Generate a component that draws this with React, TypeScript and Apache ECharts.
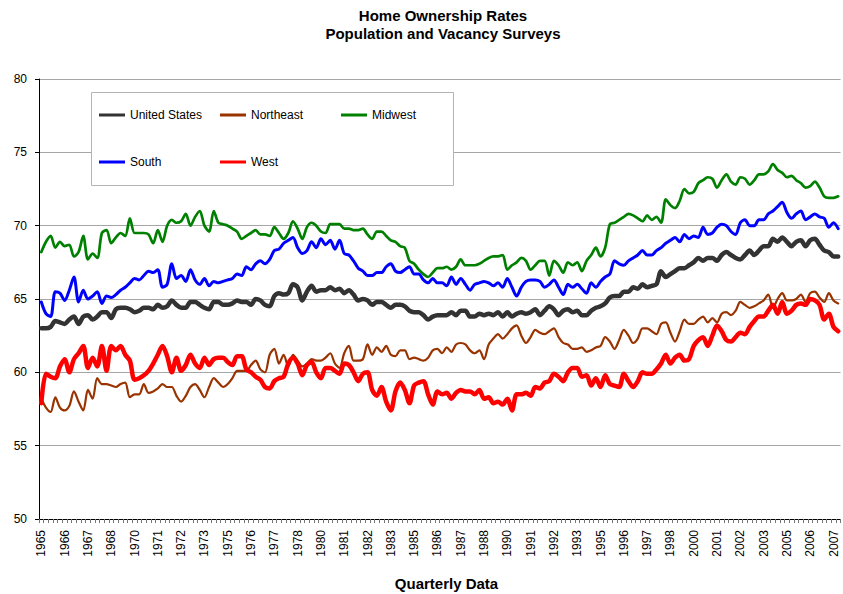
import React, { useEffect, useRef } from "react";
import * as echarts from "echarts";

const FONT = '"Liberation Sans", Arial, Helvetica, sans-serif';

const years = [
  1965, 1966, 1967, 1968, 1969, 1970, 1971, 1972, 1973, 1974, 1975, 1976, 1977, 1978, 1979,
  1980, 1981, 1982, 1983, 1984, 1985, 1986, 1987, 1988, 1989, 1990, 1991, 1992, 1993, 1994,
  1995, 1996, 1997, 1998, 1999, 2000, 2001, 2002, 2003, 2004, 2005, 2006, 2007,
];
// quarterly categories, labelled with their year
const categories = years.flatMap((y) => [String(y), String(y), String(y), String(y)]);

const seriesNames = ["United States", "Northeast", "Midwest", "South", "West"];

const unitedStates = [
  63.0, 63.0, 63.1, 63.5, 63.4, 63.3, 63.6, 63.8, 63.3, 63.8, 63.9, 63.6, 63.8, 64.1, 64.1, 63.7, 64.3, 64.4, 64.4, 64.3, 64.1, 64.2, 64.4, 64.4, 64.3, 64.6, 64.4, 64.5, 64.9,
  64.6, 64.4, 64.4, 64.8, 64.8, 64.6, 64.4, 64.3, 64.8, 64.8, 64.6, 64.6, 64.7, 64.9, 64.8, 64.8, 64.6, 65.0, 64.9, 64.6, 64.5, 65.2, 65.4, 65.3, 65.4, 66.0, 65.8, 64.9, 65.5,
  65.9, 65.5, 65.6, 65.6, 65.8, 65.6, 65.7, 65.4, 65.6, 65.3, 64.9, 65.0, 64.9, 64.6, 64.8, 64.8, 64.6, 64.4, 64.6, 64.6, 64.5, 64.2, 64.1, 64.1, 63.9, 63.6, 63.8, 63.9,
  63.9, 63.9, 64.1, 63.9, 64.2, 64.2, 63.8, 63.8, 64.0, 63.9, 64.0, 63.9, 64.1, 63.8, 64.1, 63.8, 64.0, 64.1, 64.0, 64.1, 64.3, 63.9, 64.2, 64.5, 64.3, 63.9, 64.2, 64.3, 64.1,
  64.2, 63.9, 63.9, 64.2, 64.4, 64.5, 64.7, 65.1, 65.2, 65.2, 65.5, 65.5, 65.8, 65.7, 66.0, 65.8, 65.9, 66.0, 66.9, 66.5, 66.7, 66.9, 67.1, 67.1, 67.3, 67.5, 67.8, 67.6, 67.8,
  67.8, 67.6, 68.0, 68.2, 68.0, 67.8, 67.7, 68.0, 68.3, 68.0, 68.3, 68.6, 68.6, 69.1, 68.9, 69.2, 68.9, 68.6, 68.9, 69.0, 68.6, 69.0, 69.1, 68.7, 68.3, 68.2, 67.9, 67.9,
];

const northeast = [
  58.2, 57.6, 57.3, 58.3, 57.6, 57.4, 57.7, 58.7, 58.0, 57.4, 58.8, 58.2, 59.6, 59.2, 59.2, 59.1, 59.0, 59.2, 59.3, 58.3, 58.5, 58.5, 59.2, 58.6, 58.7, 58.9, 59.2, 59.0, 59.0,
  58.4, 58.0, 58.4, 59.0, 59.2, 58.8, 58.3, 59.0, 59.6, 59.3, 59.0, 59.2, 59.6, 60.1, 60.1, 60.1, 60.5, 60.8, 60.2, 60.0, 61.2, 61.6, 60.6, 61.2, 60.4, 61.2, 60.8, 60.4, 60.6,
  60.9, 60.8, 60.8, 61.0, 61.3, 60.6, 60.3, 61.3, 61.8, 60.8, 60.8, 60.9, 61.9, 61.2, 61.7, 61.4, 61.8, 61.2, 61.1, 61.5, 61.5, 60.9, 61.0, 60.9, 60.8, 61.0, 61.5, 61.6,
  61.3, 61.7, 61.4, 61.9, 62.0, 61.9, 61.5, 61.3, 61.5, 60.9, 61.9, 62.3, 62.6, 62.3, 62.6, 63.0, 63.2, 62.5, 62.0, 62.4, 62.9, 62.7, 62.6, 62.8, 63.0, 62.4, 62.0, 61.9, 61.6,
  61.6, 61.7, 61.4, 61.5, 61.7, 61.8, 62.4, 62.1, 61.6, 62.2, 62.9, 62.5, 62.0, 62.3, 63.0, 63.0, 62.8, 62.6, 63.3, 63.4, 62.7, 62.1, 62.8, 63.6, 63.3, 63.3, 63.6, 63.8, 63.4,
  63.7, 63.4, 64.0, 64.1, 63.9, 64.2, 64.8, 64.6, 64.4, 64.5, 64.7, 64.9, 65.3, 64.4, 65.0, 65.4, 64.9, 64.9, 65.0, 65.3, 64.8, 65.4, 65.5, 65.1, 64.8, 65.4, 64.9, 64.7,
];

const midwest = [
  68.2, 68.9, 69.3, 68.5, 68.9, 68.6, 68.7, 67.9, 68.2, 69.3, 67.7, 68.1, 67.8, 69.5, 69.7, 68.8, 69.2, 69.5, 69.3, 70.5, 69.5, 69.5, 69.5, 69.4, 68.8, 69.7, 68.9, 70.0, 70.4,
  70.2, 70.3, 70.8, 70.0, 70.6, 71.0, 70.0, 69.6, 71.0, 70.2, 70.1, 70.0, 69.8, 69.6, 69.1, 69.3, 69.5, 69.7, 69.4, 69.4, 69.3, 69.9, 69.5, 69.1, 69.5, 70.3, 69.8, 69.1, 69.9,
  70.2, 70.0, 69.6, 69.5, 70.1, 70.1, 70.1, 69.8, 69.8, 69.7, 69.7, 69.8, 69.4, 69.1, 69.6, 69.6, 69.3, 69.0, 68.9, 68.6, 68.5, 67.6, 67.4, 67.0, 66.7, 66.5, 66.8, 67.1,
  67.1, 67.2, 67.0, 67.2, 67.7, 67.3, 67.3, 67.3, 67.4, 67.6, 67.8, 67.9, 67.9, 68.0, 67.0, 67.3, 67.5, 67.8, 67.6, 67.0, 67.3, 67.6, 67.6, 66.6, 67.6, 67.3, 66.8, 67.5, 67.3,
  67.5, 66.9, 67.6, 68.0, 68.5, 67.9, 68.5, 70.1, 70.2, 70.4, 70.6, 70.8, 70.7, 70.5, 70.3, 70.7, 70.4, 70.6, 70.2, 71.8, 71.4, 71.2, 71.7, 72.5, 72.2, 72.3, 72.9, 73.1, 73.3,
  73.2, 72.6, 73.1, 73.5, 73.0, 72.8, 73.3, 73.2, 72.8, 73.1, 73.5, 73.5, 73.7, 74.2, 73.8, 73.6, 73.3, 73.4, 73.1, 72.9, 72.6, 72.7, 73.0, 72.6, 72.0, 71.9, 71.9, 72.0,
];

const south = [
  64.8, 64.0, 63.8, 65.5, 65.4, 64.9, 65.6, 66.5, 64.8, 65.6, 65.0, 65.2, 65.5, 64.7, 65.2, 65.1, 65.3, 65.6, 65.8, 66.1, 66.4, 66.3, 66.6, 66.9, 66.8, 67.0, 65.8, 66.0, 67.4,
  66.4, 66.6, 66.2, 67.0, 66.3, 66.0, 66.4, 65.9, 66.2, 66.1, 66.2, 66.3, 66.4, 66.7, 66.6, 67.2, 67.0, 67.4, 67.6, 67.4, 67.7, 68.3, 68.4, 68.8, 69.0, 69.2, 68.5, 68.1, 68.3,
  68.9, 68.5, 69.1, 68.7, 69.0, 68.4, 69.0, 68.1, 68.0, 67.6, 67.1, 66.9, 66.6, 66.6, 66.8, 66.8, 67.2, 67.4, 66.9, 66.8, 67.0, 67.2, 66.7, 66.7, 66.3, 66.1, 66.4, 66.1,
  66.1, 65.9, 66.5, 66.0, 66.4, 66.0, 65.6, 66.0, 66.1, 66.2, 66.1, 65.9, 66.1, 65.8, 66.4, 65.8, 65.2, 65.8, 66.2, 66.3, 66.3, 66.2, 65.8, 66.0, 66.3, 65.8, 65.3, 66.0, 65.8,
  66.0, 65.7, 65.4, 66.1, 65.8, 66.2, 66.5, 66.7, 67.6, 67.4, 67.3, 67.6, 67.8, 68.0, 68.3, 68.0, 68.0, 68.3, 68.5, 68.8, 69.0, 69.2, 68.9, 69.4, 69.1, 69.3, 69.2, 69.9, 69.4,
  69.5, 69.9, 70.1, 70.0, 69.6, 69.4, 70.2, 70.4, 70.0, 70.0, 70.4, 70.4, 70.8, 71.0, 71.3, 71.6, 70.9, 70.5, 70.8, 71.0, 70.4, 70.6, 70.8, 70.6, 70.5, 69.9, 70.2, 69.8,
];

const west = [
  57.9, 59.9, 59.7, 59.6, 60.4, 60.9, 60.0, 60.9, 61.3, 61.8, 60.3, 61.0, 60.4, 61.8, 60.1, 61.8, 61.5, 61.8, 61.2, 60.8, 59.5, 59.6, 59.8, 60.1, 60.6, 61.2, 61.8, 61.1, 60.0,
  61.0, 60.1, 60.5, 61.2, 60.6, 60.3, 61.0, 60.5, 60.9, 61.0, 61.0, 60.7, 60.5, 61.1, 61.1, 60.2, 60.0, 59.7, 59.5, 59.0, 58.9, 59.4, 59.6, 59.7, 60.6, 61.0, 60.6, 59.8, 60.5,
  60.7, 60.0, 59.6, 60.3, 60.3, 60.1, 59.9, 60.6, 60.5, 60.0, 59.4, 59.9, 60.0, 58.8, 58.4, 59.0, 58.0, 57.4, 58.7, 59.3, 58.8, 57.9, 59.1, 59.3, 59.4, 58.5, 57.8, 58.7,
  58.5, 58.6, 58.2, 58.6, 58.8, 58.7, 58.7, 58.5, 58.8, 58.2, 58.3, 57.9, 58.0, 57.8, 58.2, 57.4, 58.5, 58.5, 58.6, 58.4, 59.0, 58.9, 59.3, 59.4, 59.9, 59.7, 59.4, 60.0, 60.3,
  60.3, 59.7, 59.8, 59.1, 59.6, 59.0, 59.8, 59.2, 59.1, 59.0, 59.9, 59.4, 59.0, 59.4, 60.0, 59.9, 59.9, 60.2, 60.6, 61.2, 60.6, 61.0, 61.2, 60.8, 60.9, 61.8, 62.2, 62.4, 61.8,
  62.5, 63.2, 62.8, 62.2, 62.1, 62.4, 62.7, 62.6, 63.1, 63.5, 63.8, 63.8, 64.2, 64.6, 64.0, 64.8, 64.0, 64.2, 64.6, 64.7, 64.6, 65.0, 64.9, 64.6, 63.6, 64.0, 63.1, 62.8,
];

const seriesData = [unitedStates, northeast, midwest, south, west];
const seriesColors = ["#333333", "#993300", "#008000", "#0000ff", "#ff0000"];
const seriesWidths = [4.5, 2.2, 2.7, 3, 4.5];

const yTicks = { min: 50, max: 80, interval: 5 };

const legendSlots = [
  { left: 99, top: 109 },
  { left: 220, top: 109 },
  { left: 341, top: 109 },
  { left: 99, top: 156 },
  { left: 220, top: 156 },
];

export default function App() {
  const ref = useRef<HTMLDivElement | null>(null);

  useEffect(() => {
    if (!ref.current) return;
    const chart = echarts.init(ref.current, null, { renderer: "svg" });
    const option: any = {
      animation: false,
      color: seriesColors,
      textStyle: { fontFamily: FONT },
      graphic: [
        {
          type: "text",
          x: 443,
          y: 6,
          z: 10,
          style: {
            text: "Home Ownership Rates\nPopulation and Vacancy Surveys",
            font: `bold 15px ${FONT}`,
            fill: "#000",
            textAlign: "center",
            verticalAlign: "top",
            lineHeight: 18,
          },
        },
        {
          type: "text",
          x: 446.5,
          y: 576,
          z: 10,
          style: {
            text: "Quarterly Data",
            font: `bold 15px ${FONT}`,
            fill: "#000",
            textAlign: "center",
            verticalAlign: "top",
          },
        },
        {
          type: "rect",
          z: 3,
          shape: { x: 91.5, y: 92.5, width: 362, height: 93 },
          style: { fill: "#ffffff", stroke: "#b4b4b4", lineWidth: 1 },
        },
      ],
      grid: { left: 39, right: 2.5, top: 79, bottom: 75, containLabel: false },
      legend: legendSlots.map((slot, i) => ({
        data: [seriesNames[i]],
        left: slot.left,
        top: slot.top,
        padding: 0,
        icon: "rect",
        itemWidth: 26,
        itemHeight: 3,
        itemGap: 0,
        selectedMode: false,
        z: 6,
        textStyle: { fontSize: 12, color: "#000", fontFamily: FONT },
      })),
      xAxis: {
        type: "category",
        data: categories,
        boundaryGap: true,
        axisLine: { show: true, lineStyle: { color: "#000", width: 1 } },
        axisTick: { show: true, interval: 0, length: 4, lineStyle: { color: "#777" } },
        axisLabel: { interval: 4, rotate: 90, fontSize: 12, color: "#000", margin: 11, fontFamily: FONT },
        splitLine: { show: false },
      },
      yAxis: {
        type: "value",
        min: yTicks.min,
        max: yTicks.max,
        interval: yTicks.interval,
        axisLine: { show: true, lineStyle: { color: "#000", width: 1 } },
        axisTick: { show: true, length: 4, lineStyle: { color: "#000" } },
        axisLabel: { fontSize: 12, color: "#000", margin: 12, fontFamily: FONT },
        splitLine: { show: true, lineStyle: { color: "#a6a6a6", width: 1 } },
      },
      series: seriesNames.map((name, i) => ({
        name,
        type: "line",
        data: seriesData[i],
        symbol: "none",
        showSymbol: false,
        smooth: 0.3,
        z: 2 + i,
        itemStyle: { color: seriesColors[i] },
        lineStyle: { color: seriesColors[i], width: seriesWidths[i], cap: "round", join: "round" },
      })),
    };
    chart.setOption(option);
    return () => chart.dispose();
  }, []);

  return (
    <div
      ref={ref}
      style={{ position: "fixed", left: 0, top: 0, width: 843, height: 594, background: "#fff" }}
    />
  );
}
